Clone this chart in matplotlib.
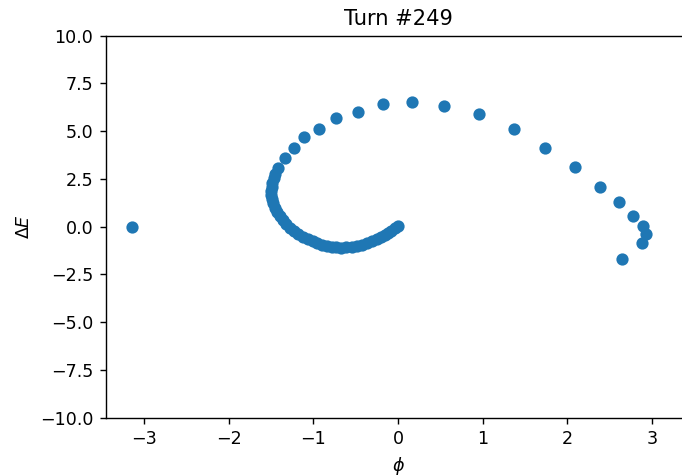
import matplotlib
matplotlib.use("Agg")
import matplotlib.pyplot as plt
import numpy as np

phi = [-3.14,
       # outer arm, from the curl out to the right
       -1.34, -1.23, -1.11, -0.94, -0.73, -0.47, -0.175, 0.17, 0.54,
       0.96, 1.37, 1.74, 2.09, 2.39, 2.61, 2.78, 2.89, 2.93, 2.88, 2.65,
       # dense inner part of the curl
       -1.415, -1.45, -1.47, -1.49, -1.49, -1.50, -1.50, -1.49, -1.48,
       -1.46, -1.43, -1.40, -1.36, -1.32, -1.28, -1.23, -1.18, -1.12,
       -1.07, -1.01, -0.96, -0.90, -0.84, -0.78, -0.73, -0.67, -0.61,
       -0.55, -0.49, -0.43, -0.37, -0.31, -0.25, -0.20, -0.155, -0.115,
       -0.08, -0.04, 0.0]
dE = [0.0,
      3.58, 4.14, 4.68, 5.11, 5.69, 6.02, 6.42, 6.51, 6.32,
      5.88, 5.13, 4.12, 3.11, 2.09, 1.27, 0.57, 0.04, -0.36, -0.84, -1.67,
      3.06, 2.78, 2.53, 2.30, 2.09, 1.87, 1.66, 1.44, 1.22,
      1.00, 0.79, 0.57, 0.35, 0.15, -0.05, -0.22, -0.38, -0.53,
      -0.66, -0.77, -0.87, -0.95, -1.01, -1.05, -1.08, -1.09, -1.08,
      -1.05, -1.01, -0.95, -0.87, -0.77, -0.66, -0.55, -0.43, -0.32,
      -0.21, -0.09, 0.02]

turn = 249

dpi = 125.8
fig = plt.figure(figsize=(682 / dpi, 475 / dpi), dpi=dpi)
ax = fig.add_axes([105.6 / 682, 57.3 / 475, 585.0 / 682, 382.0 / 475])

ax.scatter(phi, dE)
ax.set_xlim(-1.1 * np.pi, 1.1 * np.pi)
ax.set_ylim(-10, 10)
ax.set_xlabel(r"$\phi$")
ax.set_ylabel(r"$\Delta E$")
ax.set_title("Turn #%d" % turn)

fig.savefig("out.png", dpi=dpi)
